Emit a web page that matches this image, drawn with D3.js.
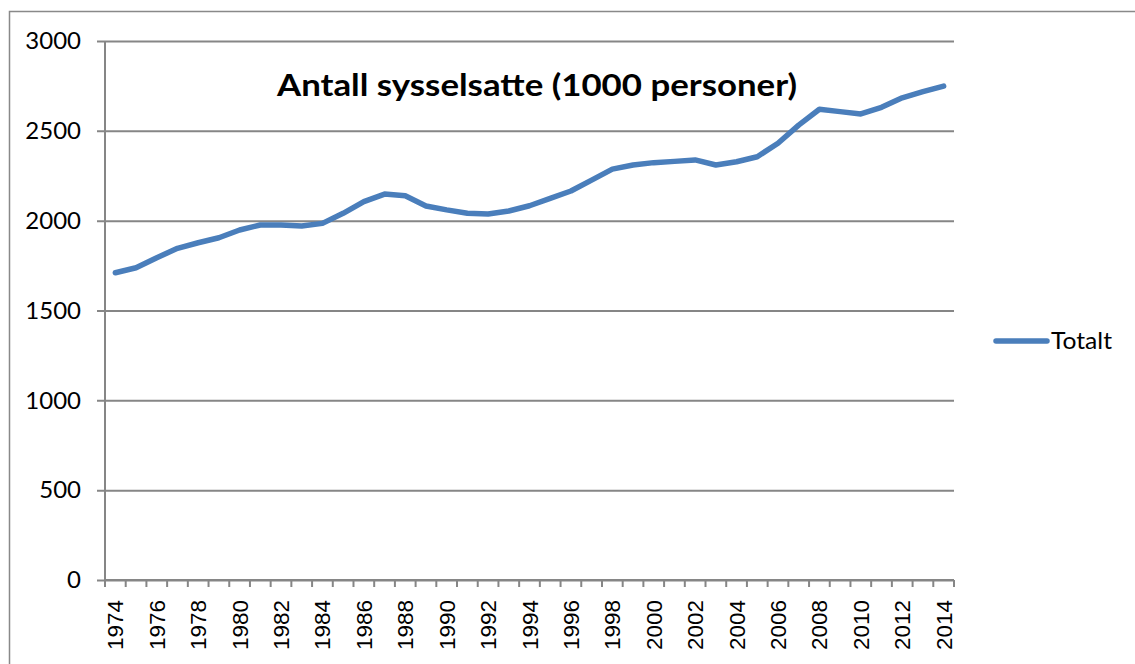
<!DOCTYPE html>
<html>
<head>
<meta charset="utf-8">
<script src="https://cdnjs.cloudflare.com/ajax/libs/d3/7.8.5/d3.min.js"></script>
<style>
	body { margin: 0; background: #fff; }
	svg { display: block; }
</style>
</head>
<body>
<script>
// years and employed persons (1000)
var years = d3.range(1974, 2015);
var totalt = [1710, 1738, 1794, 1846, 1877, 1905, 1948, 1976, 1976, 1970,
	1985, 2041, 2106, 2148, 2139, 2082, 2060, 2041, 2037, 2054,
	2083, 2124, 2165, 2226, 2287, 2310, 2323, 2330, 2338, 2310,
	2328, 2356, 2431, 2532, 2620, 2607, 2594, 2631, 2684, 2718, 2749];
var y_ticks = [0, 500, 1000, 1500, 2000, 2500, 3000];
var title = "Antall sysselsatte (1000 personer)";
var series_name = "Totalt";

var W = 1135, H = 664;
var margin = {top: 41, left: 105, right: 1135 - 954, bottom: 664 - 580};
var width = W - margin.left - margin.right,
	height = H - margin.top - margin.bottom;

var svg = d3.select("body").append("svg")
	.attr("width", W)
	.attr("height", H);

// outer chart border (runs off the right and bottom edges)
svg.append("rect")
	.attr("x", 9.5).attr("y", 11.5)
	.attr("width", W + 20).attr("height", H + 20)
	.attr("fill", "none")
	.attr("stroke", "#898989")
	.attr("stroke-width", 1.5);

var g = svg.append("g")
	.attr("transform", "translate(" + margin.left + "," + margin.top + ")");

var x = d3.scaleBand().domain(years).range([0, width]);
var y = d3.scaleLinear().domain([0, 3000]).range([height, 0]);

// horizontal gridlines + y axis
var yAxis = g.append("g")
	.call(d3.axisLeft(y).tickValues(y_ticks).tickFormat(d3.format("d"))
		.tickSize(-width - 8).tickSizeOuter(0).tickPadding(16))
	.attr("transform", "translate(-8,0)");
yAxis.select(".domain").remove();
yAxis.selectAll(".tick line")
	.attr("stroke", "#868686")
	.attr("stroke-width", 2);
yAxis.selectAll(".tick text")
	.attr("font-family", "Lato, 'Open Sans', sans-serif")
	.attr("font-size", 24)
	.attr("fill", "#000");

// vertical axis line
g.append("line")
	.attr("x1", 0).attr("x2", 0)
	.attr("y1", 0).attr("y2", height)
	.attr("stroke", "#868686")
	.attr("stroke-width", 2);

// x axis, ticks on band edges, labels every second year
var xa = g.append("g").attr("transform", "translate(0," + height + ")");
xa.append("line")
	.attr("x1", 0).attr("x2", width)
	.attr("stroke", "#868686")
	.attr("stroke-width", 2);
xa.selectAll(".tk")
	.data(years.concat([2015]))
	.enter().append("line")
	.attr("class", "tk")
	.attr("x1", function(d) { return d === 2015 ? width : x(d); })
	.attr("x2", function(d) { return d === 2015 ? width : x(d); })
	.attr("y1", 0).attr("y2", 7)
	.attr("stroke", "#868686")
	.attr("stroke-width", 2);
xa.selectAll(".lbl")
	.data(years.filter(function(d) { return d % 2 === 0; }))
	.enter().append("text")
	.attr("class", "lbl")
	.attr("transform", function(d) {
		return "translate(" + (x(d) + x.bandwidth() / 2 + 8) + ",20) rotate(-90)";
	})
	.attr("text-anchor", "end")
	.attr("font-family", "'Liberation Sans', Arial, sans-serif")
	.attr("font-size", 22)
	.attr("textLength", 50)
	.attr("lengthAdjust", "spacingAndGlyphs")
	.text(function(d) { return d; });

// the line
var line = d3.line()
	.x(function(d, i) { return x(years[i]) + x.bandwidth() / 2; })
	.y(function(d) { return y(d); });

g.append("path")
	.datum(totalt)
	.attr("d", line)
	.attr("fill", "none")
	.attr("stroke", "#4a7ebb")
	.attr("stroke-width", 5.5)
	.attr("stroke-linejoin", "round")
	.attr("stroke-linecap", "round");

// title
svg.append("text")
	.attr("x", 277)
	.attr("y", 96)
	.attr("font-family", "Lato, 'Open Sans', sans-serif")
	.attr("font-weight", "bold")
	.attr("font-size", 30)
	.attr("textLength", 520)
	.attr("lengthAdjust", "spacingAndGlyphs")
	.text(title);

// legend
svg.append("line")
	.attr("x1", 996).attr("x2", 1047)
	.attr("y1", 341).attr("y2", 341)
	.attr("stroke", "#4a7ebb")
	.attr("stroke-width", 5.5)
	.attr("stroke-linecap", "round");
svg.append("text")
	.attr("x", 1051)
	.attr("y", 349)
	.attr("font-family", "Lato, 'Open Sans', sans-serif")
	.attr("font-size", 23)
	.attr("textLength", 61)
	.attr("lengthAdjust", "spacingAndGlyphs")
	.text(series_name);
</script>
</body>
</html>
